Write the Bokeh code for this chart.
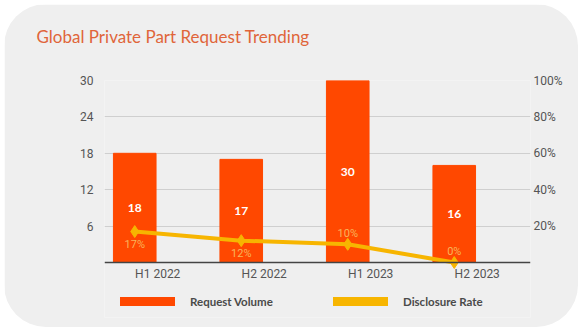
from bokeh.plotting import figure
from bokeh.models import (ColumnDataSource, Range1d, LinearAxis, FixedTicker,
                          PrintfTickFormatter, Legend, LegendItem, Title)
from bokeh.transform import dodge
from bokeh.core.properties import value
from bokeh.embed import file_html
from bokeh.resources import INLINE

categories = ["H1 2022", "H2 2022", "H1 2023", "H2 2023"]
request_volume = [18, 17, 30, 16]
disclosure_rate = [17, 12, 10, 0]
rate_label_above = [False, False, True, True]
left_ticks = [6, 12, 18, 24, 30]
right_ticks = [20, 40, 60, 80, 100]

BG = "#efefef"
BAR = "#ff4800"
LINE = "#f7b500"
RATE_TXT = "#f9b45a"
AXIS_TXT = "#555555"
SHIFT = -0.216

# layout (pixels within the figure)
W, H = 574, 323
TOP, BOTTOM_PAD = 76, 10
PLOT_H = 182          # pixels from 0 to 30 on the left axis
frame_h = H - TOP - BOTTOM_PAD
ymin = -(frame_h - PLOT_H) * 30 / PLOT_H
pmin = ymin / 30 * 100

src = ColumnDataSource(dict(
    cat=categories,
    vol=request_volume,
    vol_mid=[v / 2 for v in request_volume],
    vol_txt=[str(v) for v in request_volume],
    rate=disclosure_rate,
    rate_txt=[f"{r}%" for r in disclosure_rate],
    rate_off=[-11 if a else 13 for a in rate_label_above],
))

p = figure(x_range=categories, y_range=Range1d(ymin, 30), width=W, height=H,
           output_backend="svg", toolbar_location=None,
           min_border_left=100, min_border_right=48, min_border_top=TOP,
           min_border_bottom=BOTTOM_PAD)
p.title = None
p.styles = {"border-radius": "42px", "overflow": "hidden", "margin": "4px 4px 3px 4px"}
p.background_fill_color = BG
p.border_fill_color = BG
p.outline_line_color = None

spacer = Title(text=" ", text_font_size="19px", standoff=0)
p.add_layout(spacer, "above")
title = Title(text="Global Private Part Request Trending", text_font="Lato",
              text_font_size="17px", text_font_style="normal",
              text_color="#e0653a", align="left", offset=-68, standoff=22)
p.add_layout(title, "above")

p.extra_y_ranges = {"pct": Range1d(pmin, 100)}

xs = dodge("cat", SHIFT, range=p.x_range)
p.vbar(x=xs, top="vol", bottom=0, width=0.4, source=src, color=BAR)
p.line(x=xs, y="rate", source=src, y_range_name="pct",
       line_color=LINE, line_width=4)
p.scatter(x=xs, y="rate", source=src, y_range_name="pct", marker="diamond",
          size=12, color=LINE)

p.text(x=xs, y="vol_mid", text="vol_txt", source=src, text_color="white",
       text_font=value("Lato"), text_font_style="bold", text_font_size="12px",
       text_align="center", text_baseline="middle")
p.text(x=xs, y="rate", text="rate_txt", source=src, y_range_name="pct",
       y_offset="rate_off", text_color=RATE_TXT, text_font=value("Roboto"),
       text_font_size="11px", text_align="center", text_baseline="middle")

# axes
yl = p.yaxis[0]
yl.ticker = FixedTicker(ticks=left_ticks)
yr = LinearAxis(y_range_name="pct", ticker=FixedTicker(ticks=right_ticks),
                formatter=PrintfTickFormatter(format="%d%%"))
p.add_layout(yr, "right")
xa = p.xaxis[0]
for ax in (yl, yr, xa):
    ax.axis_line_color = None
    ax.major_tick_line_color = None
    ax.minor_tick_line_color = None
    ax.major_tick_out = 0
    ax.major_tick_in = 0
    ax.minor_tick_out = 0
    ax.major_label_text_color = AXIS_TXT
    ax.major_label_text_font = "Roboto"
    ax.major_label_text_font_size = "12px"
yl.major_label_standoff = 11
yr.major_label_standoff = 3
xa.fixed_location = 0
xa.axis_line_color = "#444444"
xa.axis_line_width = 1.5
xa.major_label_standoff = 4

p.xgrid.grid_line_color = None
p.ygrid.ticker = FixedTicker(ticks=left_ticks)
p.ygrid.grid_line_color = "#cfcfcf"
p.ygrid.grid_line_width = 1

# legend pills (dummy renderers with no visible points)
nan = float("nan")
r1 = p.line(x=[categories[0]], y=[nan], line_color=BAR, line_width=9,
            line_cap="round", line_join="round")
r2 = p.line(x=[categories[0]], y=[nan], line_color=LINE, line_width=9,
            line_cap="round", line_join="round")
lg = Legend(items=[LegendItem(label="Request Volume", renderers=[r1]),
                   LegendItem(label="Disclosure Rate", renderers=[r2])],
            location=(16, 9), orientation="horizontal",
            glyph_width=55, glyph_height=12, label_standoff=15, label_width=100,
            spacing=43, padding=8, margin=0, border_line_color=None,
            background_fill_alpha=0, label_text_font="Lato",
            label_text_font_style="bold", label_text_font_size="11.5px",
            label_text_color="#4a4a4a", label_height=14)
p.add_layout(lg, "center")

open("out.html", "w").write(file_html(p, INLINE))
